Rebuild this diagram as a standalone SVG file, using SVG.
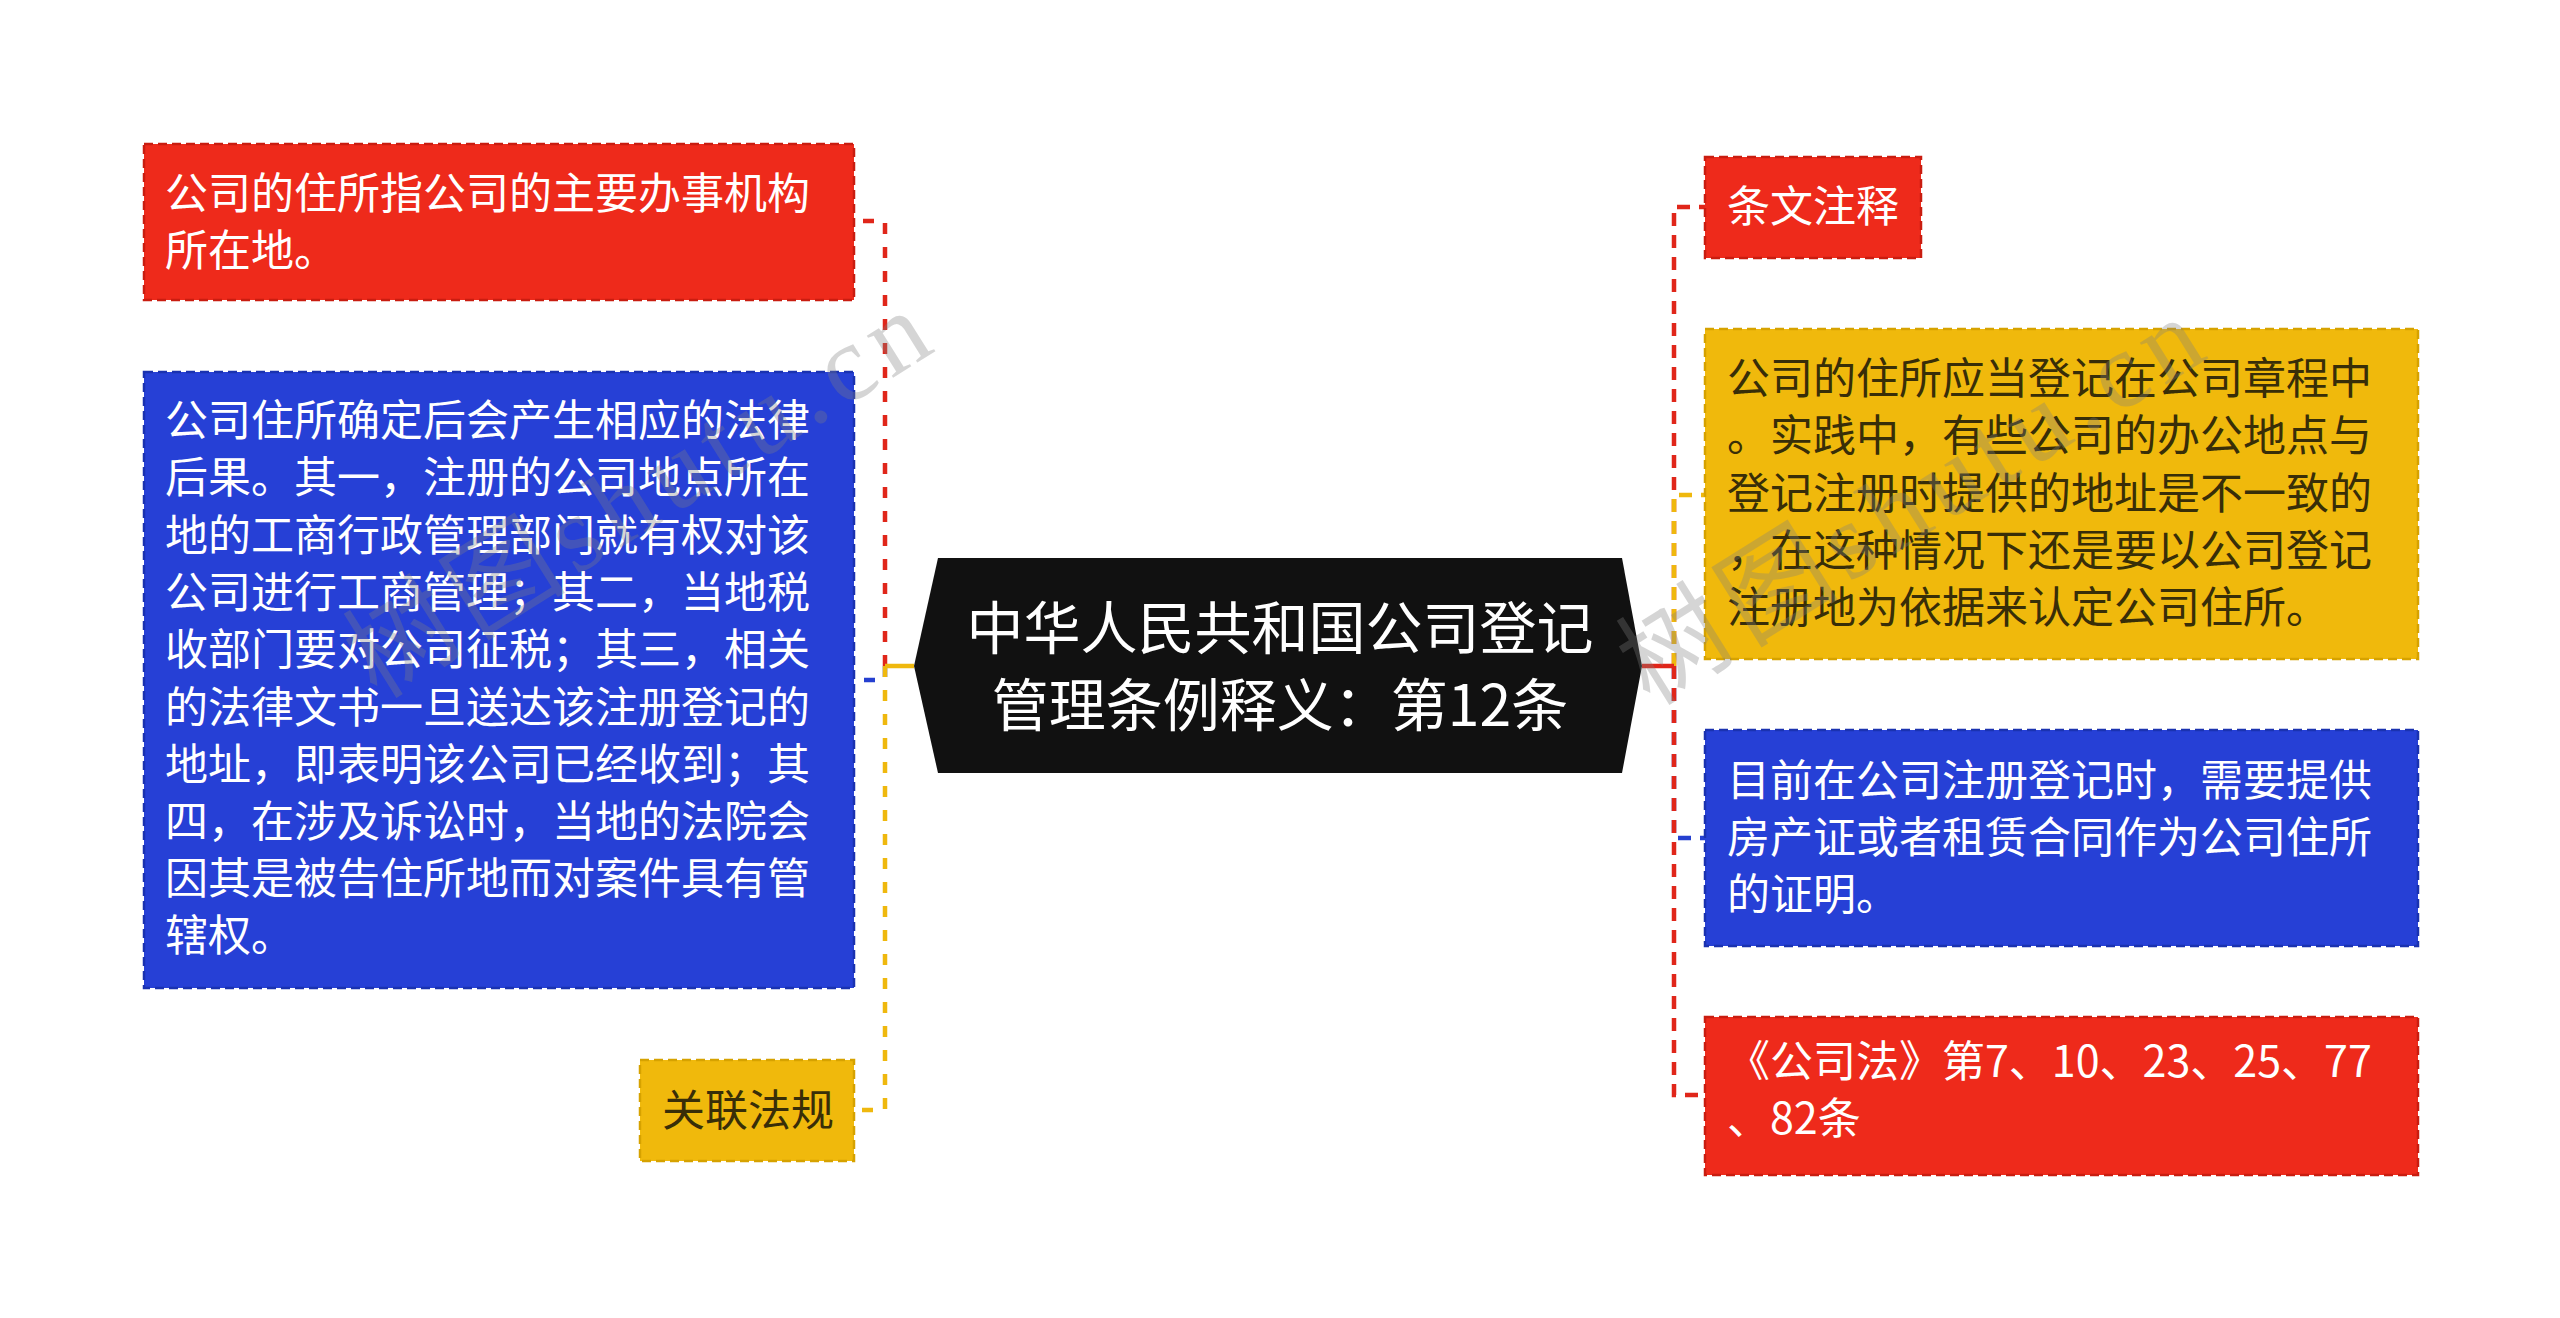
<svg xmlns="http://www.w3.org/2000/svg" width="2560" height="1318" viewBox="0 0 2560 1318">
<style>
.t{font-family:"Noto Sans CJK SC","Noto Sans",sans-serif;font-size:43px}
.w{fill:#ffffff}
.d{fill:#382e08}
.red{fill:#ee2a1b;stroke:#c91d10;stroke-width:2.5;stroke-dasharray:9 5}
.blue{fill:#2640d6;stroke:#1a32b0;stroke-width:2.5;stroke-dasharray:9 5}
.yel{fill:#f0b90c;stroke:#d6a200;stroke-width:2.5;stroke-dasharray:9 5}
.c{fill:none;stroke-width:4.5}
.dl{stroke-dasharray:11 13}
.dr{stroke-dasharray:13 9}
.wm{font-family:"Liberation Serif","Noto Sans CJK SC",serif;font-size:108px;letter-spacing:9px;fill:#808080;opacity:0.32}
</style>
<rect width="2560" height="1318" fill="#ffffff"/>
<g id="connectors">
  <path class="c dl" stroke="#e0261a" d="M885 666 V221 H856"/>
  <path class="c dl" stroke="#2540d0" d="M885 666 V680 H856"/>
  <path class="c dl" stroke="#efb80e" d="M885 666 V1110 H856"/>
  <path class="c" stroke="#efb80e" d="M914 666 H885"/>
  <path class="c dr" stroke="#e0261a" d="M1674 666 V207 H1705"/>
  <path class="c dr" stroke="#2540d0" d="M1674 666 V838 H1705"/>
  <path class="c dr" stroke="#efb80e" d="M1674 666 V495 H1705"/>
  <path class="c dr" stroke="#e0261a" d="M1674 666 V1095 H1705"/>
  <path class="c" stroke="#e0261a" d="M1642 666 H1674"/>
</g>
<g id="root">
  <polygon points="938,558 1622,558 1642,666 1622,773 938,773 914,666" fill="#111111"/>
  <text class="t w" style="font-size:57px" text-anchor="middle" x="1280" y="649">中华人民共和国公司登记</text>
  <text class="t w" style="font-size:57px" text-anchor="middle" x="1280" y="726">管理条例释义：第12条</text>
</g>
<g id="n-left-1">
  <rect class="red" x="144" y="144" width="710" height="156"/>
  <text class="t w" x="165" y="209">公司的住所指公司的主要办事机构</text>
  <text class="t w" x="165" y="266">所在地。</text>
</g>
<g id="n-left-2">
  <rect class="blue" x="144" y="372" width="710" height="616"/>
  <text class="t w" x="165" y="436">公司住所确定后会产生相应的法律</text>
  <text class="t w" x="165" y="493">后果。其一，注册的公司地点所在</text>
  <text class="t w" x="165" y="551">地的工商行政管理部门就有权对该</text>
  <text class="t w" x="165" y="608">公司进行工商管理；其二，当地税</text>
  <text class="t w" x="165" y="665">收部门要对公司征税；其三，相关</text>
  <text class="t w" x="165" y="723">的法律文书一旦送达该注册登记的</text>
  <text class="t w" x="165" y="780">地址，即表明该公司已经收到；其</text>
  <text class="t w" x="165" y="837">四，在涉及诉讼时，当地的法院会</text>
  <text class="t w" x="165" y="894">因其是被告住所地而对案件具有管</text>
  <text class="t w" x="165" y="951">辖权。</text>
</g>
<g id="n-left-3">
  <rect class="yel" x="640" y="1060" width="214" height="101"/>
  <text class="t d" x="662" y="1126">关联法规</text>
</g>
<g id="n-right-1">
  <rect class="red" x="1705" y="157" width="216" height="101"/>
  <text class="t w" x="1727" y="222">条文注释</text>
</g>
<g id="n-right-2">
  <rect class="yel" x="1705" y="329" width="713" height="330"/>
  <text class="t d" x="1727" y="394">公司的住所应当登记在公司章程中</text>
  <text class="t d" x="1727" y="451">。实践中，有些公司的办公地点与</text>
  <text class="t d" x="1727" y="509">登记注册时提供的地址是不一致的</text>
  <text class="t d" x="1727" y="566">，在这种情况下还是要以公司登记</text>
  <text class="t d" x="1727" y="623">注册地为依据来认定公司住所。</text>
</g>
<g id="n-right-3">
  <rect class="blue" x="1705" y="730" width="713" height="216"/>
  <text class="t w" x="1727" y="796">目前在公司注册登记时，需要提供</text>
  <text class="t w" x="1727" y="853">房产证或者租赁合同作为公司住所</text>
  <text class="t w" x="1727" y="910">的证明。</text>
</g>
<g id="n-right-4">
  <rect class="red" x="1705" y="1017" width="713" height="158"/>
  <text class="t w" x="1727" y="1077">《公司法》第7、10、23、25、77</text>
  <text class="t w" x="1727" y="1134">、82条</text>
</g>
<g id="watermark">
  <text class="wm" transform="translate(377,700) rotate(-32)">树图shutu.cn</text>
  <text class="wm" transform="translate(1650,707) rotate(-32)">树图shutu.cn</text>
</g>
</svg>
